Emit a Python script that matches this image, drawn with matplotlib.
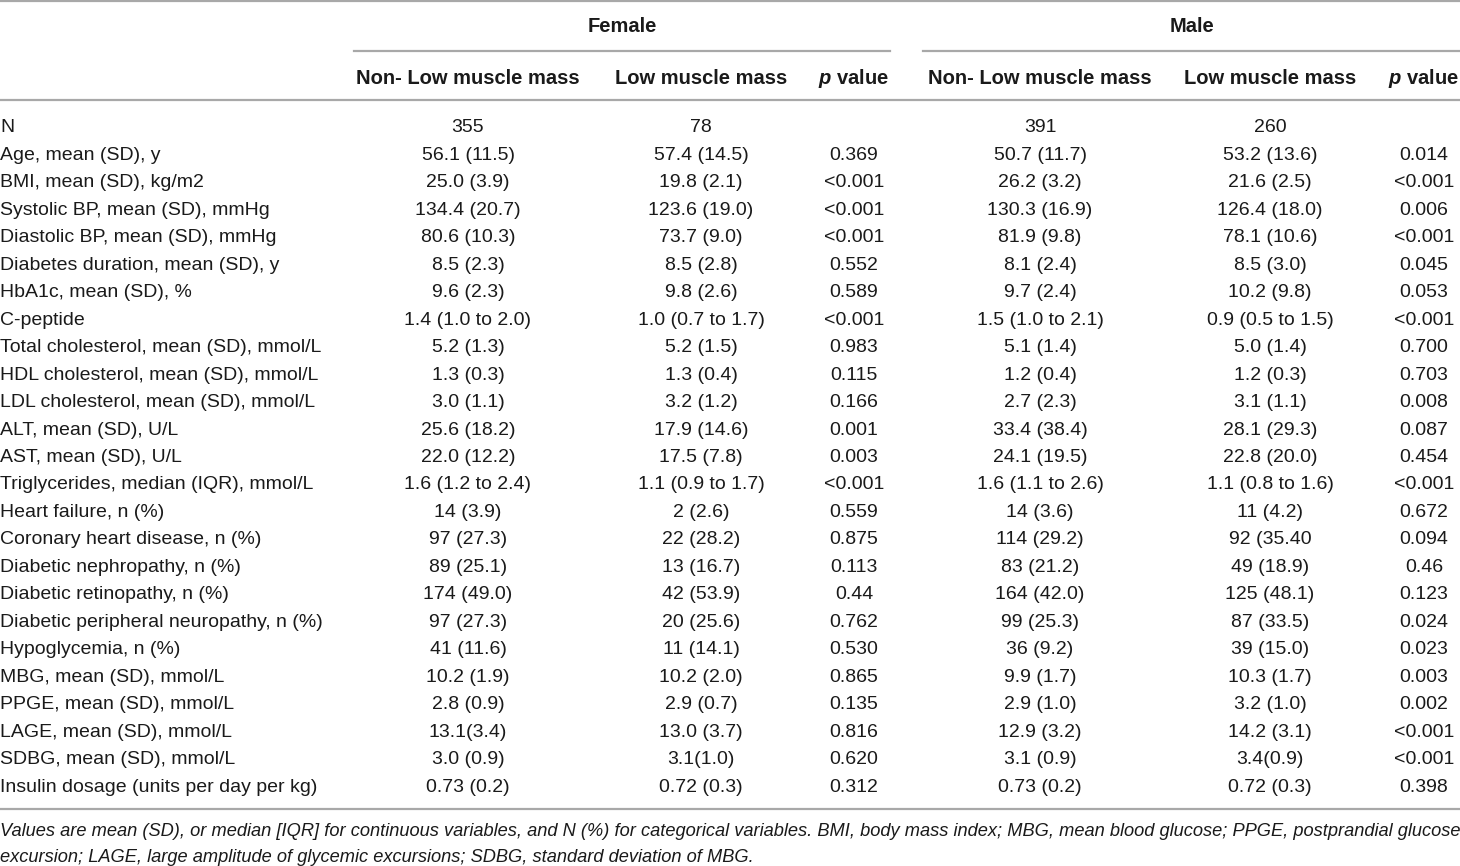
import matplotlib
matplotlib.use("Agg")
import matplotlib.pyplot as plt

# table contents
row_labels = [
    "N",
    "Age, mean (SD), y",
    "BMI, mean (SD), kg/m2",
    "Systolic BP, mean (SD), mmHg",
    "Diastolic BP, mean (SD), mmHg",
    "Diabetes duration, mean (SD), y",
    "HbA1c, mean (SD), %",
    "C-peptide",
    "Total cholesterol, mean (SD), mmol/L",
    "HDL cholesterol, mean (SD), mmol/L",
    "LDL cholesterol, mean (SD), mmol/L",
    "ALT, mean (SD), U/L",
    "AST, mean (SD), U/L",
    "Triglycerides, median (IQR), mmol/L",
    "Heart failure, n (%)",
    "Coronary heart disease, n (%)",
    "Diabetic nephropathy, n (%)",
    "Diabetic retinopathy, n (%)",
    "Diabetic peripheral neuropathy, n (%)",
    "Hypoglycemia, n (%)",
    "MBG, mean (SD), mmol/L",
    "PPGE, mean (SD), mmol/L",
    "LAGE, mean (SD), mmol/L",
    "SDBG, mean (SD), mmol/L",
    "Insulin dosage (units per day per kg)",
]

female_non_low = [
    "355", "56.1 (11.5)", "25.0 (3.9)", "134.4 (20.7)", "80.6 (10.3)", "8.5 (2.3)",
    "9.6 (2.3)", "1.4 (1.0 to 2.0)", "5.2 (1.3)", "1.3 (0.3)", "3.0 (1.1)",
    "25.6 (18.2)", "22.0 (12.2)", "1.6 (1.2 to 2.4)", "14 (3.9)", "97 (27.3)",
    "89 (25.1)", "174 (49.0)", "97 (27.3)", "41 (11.6)", "10.2 (1.9)", "2.8 (0.9)",
    "13.1(3.4)", "3.0 (0.9)", "0.73 (0.2)",
]
female_low = [
    "78", "57.4 (14.5)", "19.8 (2.1)", "123.6 (19.0)", "73.7 (9.0)", "8.5 (2.8)",
    "9.8 (2.6)", "1.0 (0.7 to 1.7)", "5.2 (1.5)", "1.3 (0.4)", "3.2 (1.2)",
    "17.9 (14.6)", "17.5 (7.8)", "1.1 (0.9 to 1.7)", "2 (2.6)", "22 (28.2)",
    "13 (16.7)", "42 (53.9)", "20 (25.6)", "11 (14.1)", "10.2 (2.0)", "2.9 (0.7)",
    "13.0 (3.7)", "3.1(1.0)", "0.72 (0.3)",
]
female_p = [
    "", "0.369", "<0.001", "<0.001", "<0.001", "0.552", "0.589", "<0.001", "0.983",
    "0.115", "0.166", "0.001", "0.003", "<0.001", "0.559", "0.875", "0.113", "0.44",
    "0.762", "0.530", "0.865", "0.135", "0.816", "0.620", "0.312",
]
male_non_low = [
    "391", "50.7 (11.7)", "26.2 (3.2)", "130.3 (16.9)", "81.9 (9.8)", "8.1 (2.4)",
    "9.7 (2.4)", "1.5 (1.0 to 2.1)", "5.1 (1.4)", "1.2 (0.4)", "2.7 (2.3)",
    "33.4 (38.4)", "24.1 (19.5)", "1.6 (1.1 to 2.6)", "14 (3.6)", "114 (29.2)",
    "83 (21.2)", "164 (42.0)", "99 (25.3)", "36 (9.2)", "9.9 (1.7)", "2.9 (1.0)",
    "12.9 (3.2)", "3.1 (0.9)", "0.73 (0.2)",
]
male_low = [
    "260", "53.2 (13.6)", "21.6 (2.5)", "126.4 (18.0)", "78.1 (10.6)", "8.5 (3.0)",
    "10.2 (9.8)", "0.9 (0.5 to 1.5)", "5.0 (1.4)", "1.2 (0.3)", "3.1 (1.1)",
    "28.1 (29.3)", "22.8 (20.0)", "1.1 (0.8 to 1.6)", "11 (4.2)", "92 (35.40",
    "49 (18.9)", "125 (48.1)", "87 (33.5)", "39 (15.0)", "10.3 (1.7)", "3.2 (1.0)",
    "14.2 (3.1)", "3.4(0.9)", "0.72 (0.3)",
]
male_p = [
    "", "0.014", "<0.001", "0.006", "<0.001", "0.045", "0.053", "<0.001", "0.700",
    "0.703", "0.008", "0.087", "0.454", "<0.001", "0.672", "0.094", "0.46", "0.123",
    "0.024", "0.023", "0.003", "0.002", "<0.001", "<0.001", "0.398",
]

groups = ["Female", "Male"]
sub_headers = ["Non- Low muscle mass", "Low muscle mass", "$\\it{p}$ value"]

footnote = [
    "Values are mean (SD), or median [IQR] for continuous variables, and N (%) for categorical variables. "
    "BMI, body mass index; MBG, mean blood glucose; PPGE, postprandial glucose",
    "excursion; LAGE, large amplitude of glycemic excursions; SDBG, standard deviation of MBG.",
]


def main():
    W, H = 1460, 866
    fig = plt.figure(figsize=(W / 100, H / 100), dpi=100)
    ax = fig.add_axes([0, 0, 1, 1])
    ax.set_xlim(0, W)
    ax.set_ylim(H, 0)
    ax.axis("off")

    plt.rcParams["mathtext.fontset"] = "custom"
    plt.rcParams["mathtext.it"] = "Liberation Sans:italic:bold"
    font = "Liberation Sans"
    fs = 14
    fs_head = 14.5
    color = "#1a1a1a"
    line_c = "#a8a8a8"

    # rules
    ax.plot([0, W], [1, 1], color=line_c, lw=1.6)
    ax.plot([354, 890], [51, 51], color=line_c, lw=1.6)
    ax.plot([923, W], [51, 51], color=line_c, lw=1.6)
    ax.plot([0, W], [100, 100], color=line_c, lw=1.6)
    ax.plot([0, W], [809, 809], color=line_c, lw=1.6)

    # headers
    for g, x in zip(groups, [622, 1192]):
        ax.text(x, 27, g, ha="center", va="center", fontsize=fs_head, fontweight="bold",
                family=font, color=color)
    col_x = [468, 701, 854, 1040, 1270, 1424]
    for i, x in enumerate(col_x):
        ax.text(x, 78, sub_headers[i % 3], ha="center", va="center", fontsize=fs_head,
                fontweight="bold", family=font, color=color)

    # body
    columns = [female_non_low, female_low, female_p, male_non_low, male_low, male_p]
    y0, dy = 128, 27.46
    for r, label in enumerate(row_labels):
        y = y0 + r * dy
        ax.text(0, y, label, ha="left", va="center", fontsize=fs, family=font, color=color)
        for x, col in zip(col_x, columns):
            ax.text(x, y, col[r], ha="center", va="center", fontsize=fs, family=font,
                    color=color)

    # footnote
    for i, line in enumerate(footnote):
        ax.text(0, 832 + i * 25.5, line, ha="left", va="center", fontsize=13.15,
                style="italic", family=font, color=color)

    fig.savefig("out.png", dpi=100)


if __name__ == "__main__":
    main()
